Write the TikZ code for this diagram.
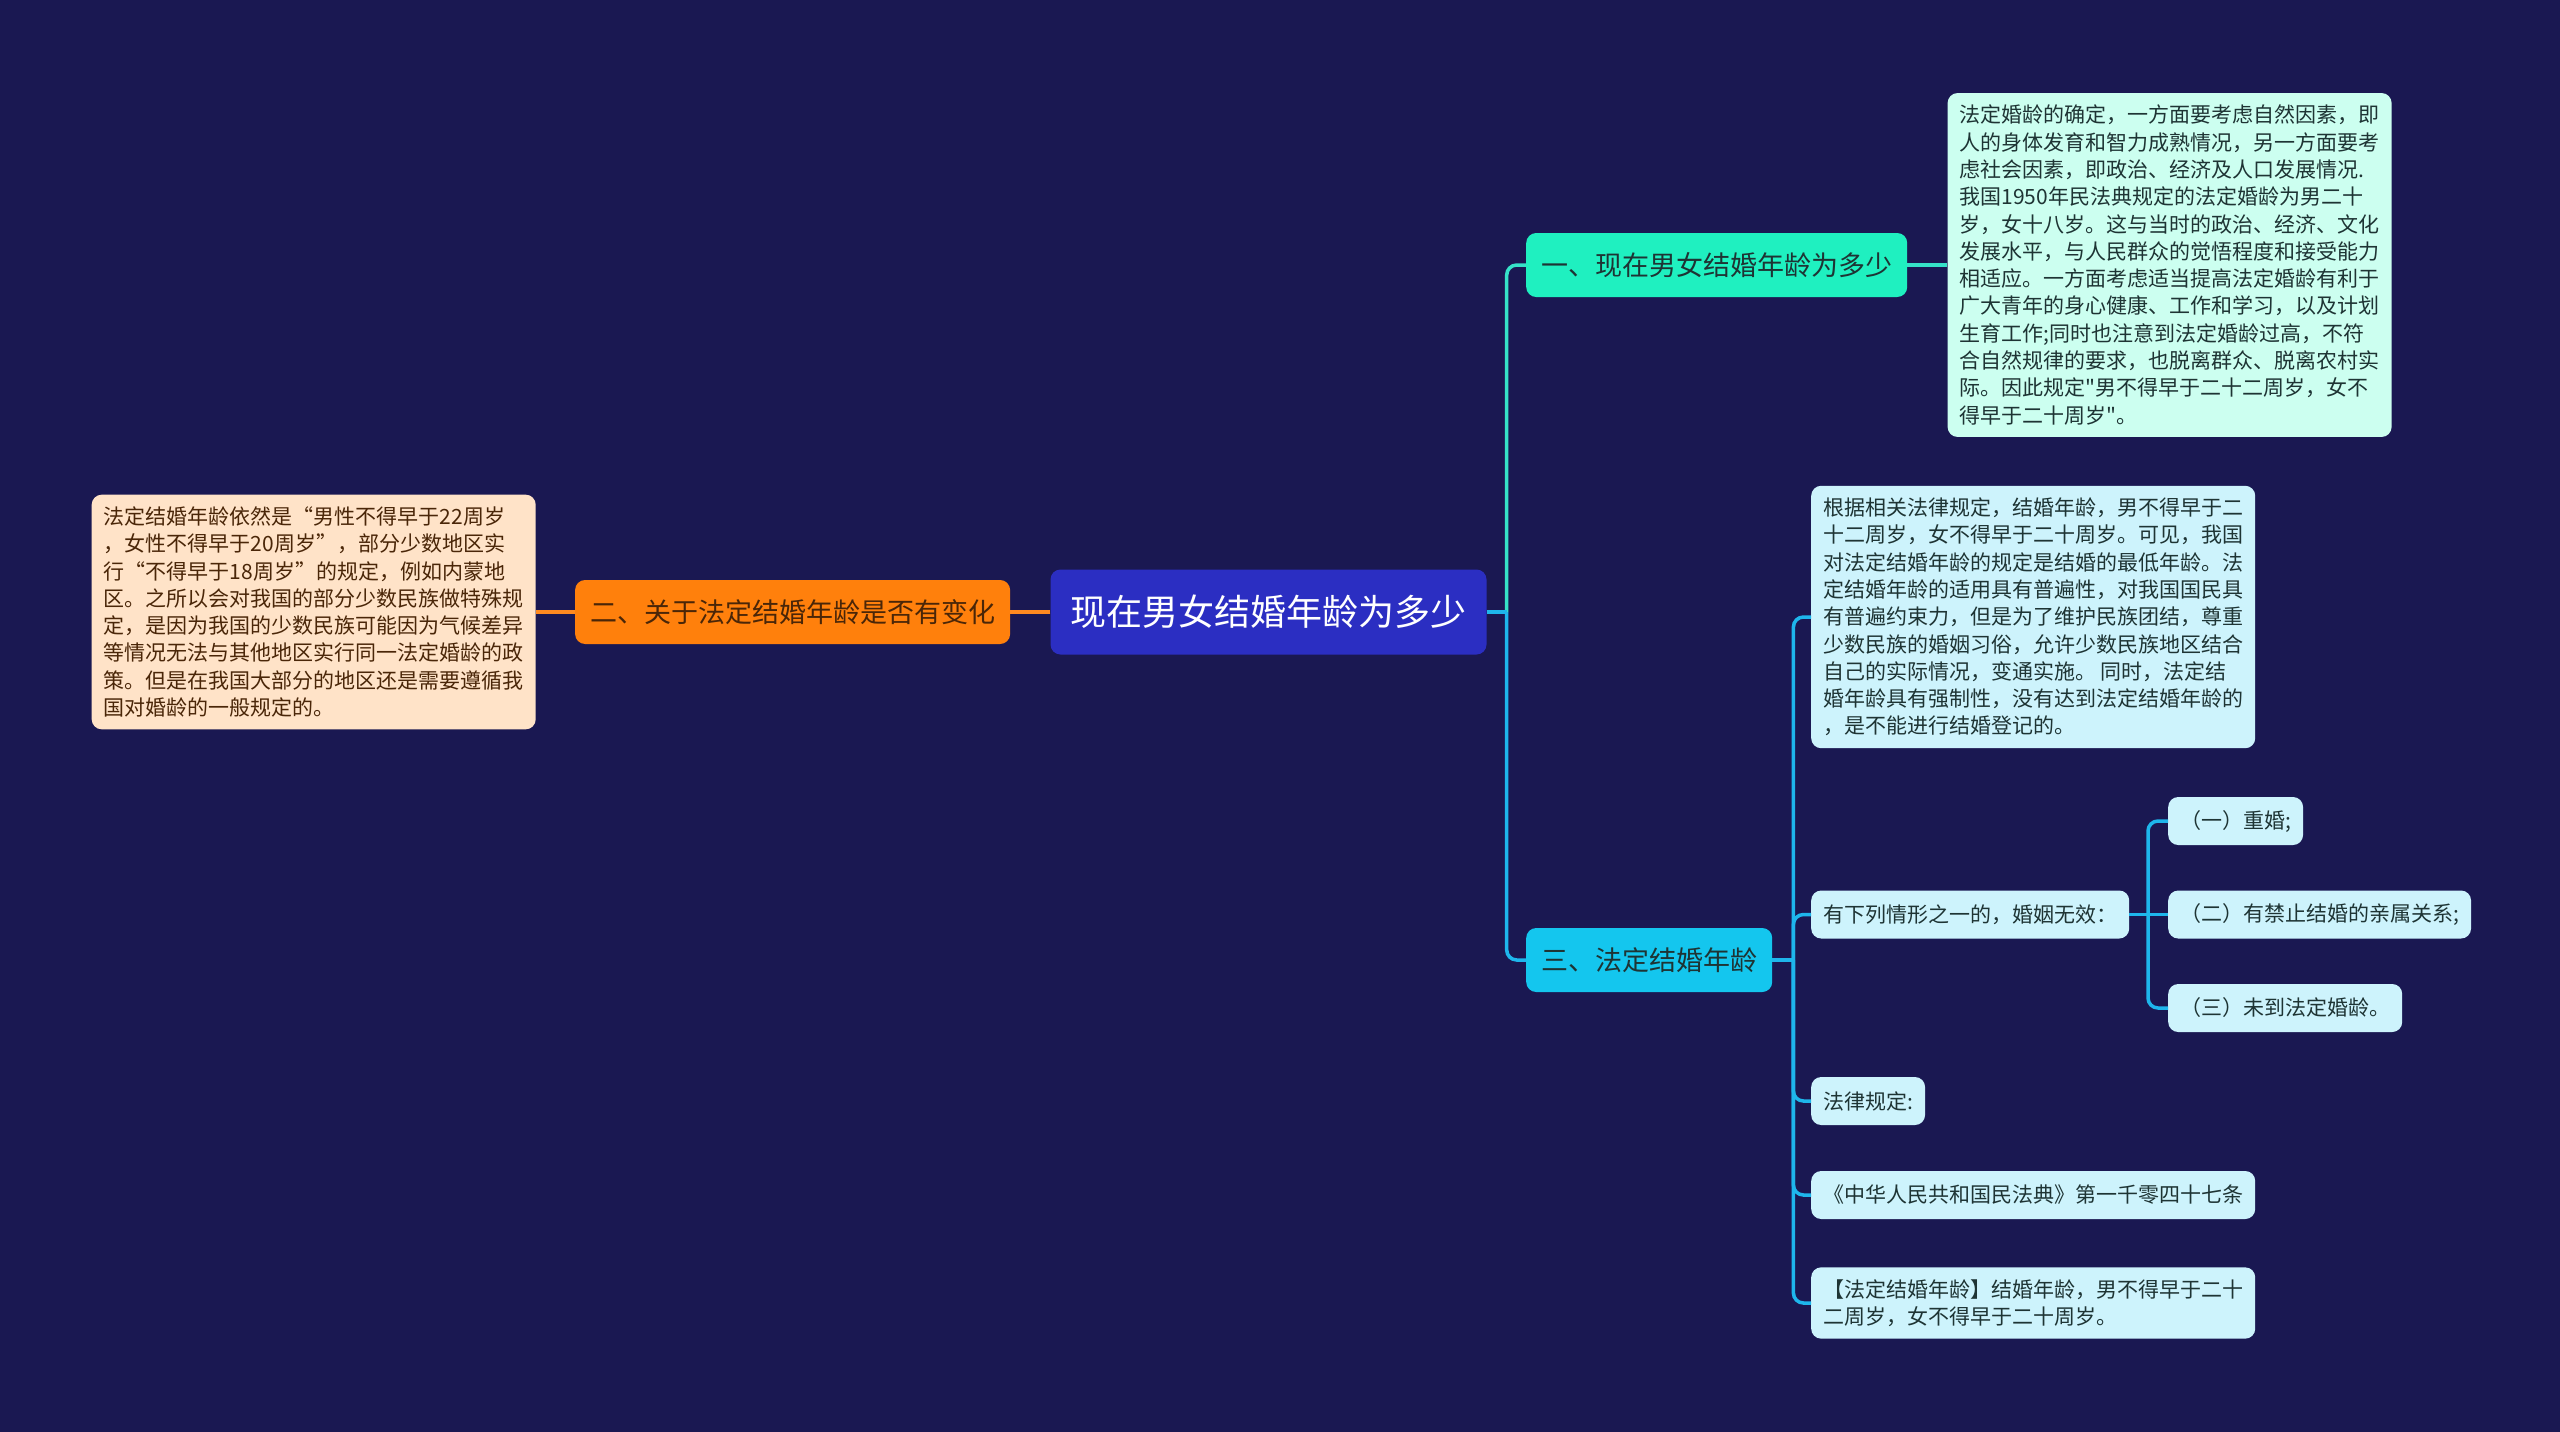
\documentclass[tikz,border=0pt]{standalone}
\usepackage{fontspec}
\newfontfamily\cjkfont{Noto Sans CJK SC}
\usepackage{tikz}
\usetikzlibrary{positioning}

\definecolor{bgnavy}{HTML}{1A1852}
\definecolor{rootblue}{HTML}{2B2EC2}
\definecolor{orangefill}{HTML}{FF800C}
\definecolor{orangeline}{HTML}{FF8A20}
\definecolor{peachfill}{HTML}{FFE3C8}
\definecolor{mintfill}{HTML}{1FF0C0}
\definecolor{mintline}{HTML}{36E2C8}
\definecolor{mintleaf}{HTML}{CCFFF0}
\definecolor{cyanfill}{HTML}{14C6EE}
\definecolor{cyanline}{HTML}{1EB6EC}
\definecolor{cyanleaf}{HTML}{CDF3FC}
\definecolor{inkdark}{HTML}{1E3434}
\definecolor{inkbrown}{HTML}{4A2608}

\begin{document}
\begin{tikzpicture}[
  x=1pt, y=-1pt,
  node distance=40pt and 40pt,
  box/.style={rounded corners=10pt, align=left, inner xsep=12pt, inner ysep=12pt,
    text=inkdark, font=\cjkfont\fontsize{21pt}{27.3pt}\selectfont},
  rootbox/.style={box, fill=rootblue, text=white, inner xsep=20pt, minimum height=85pt,
    font=\cjkfont\fontsize{36pt}{40pt}\selectfont},
  topicbox/.style={box, inner xsep=15pt, minimum height=64pt, font=\cjkfont\fontsize{27pt}{30pt}\selectfont},
  leafbox/.style={box, minimum height=48pt},
  link/.style={line width=3.5pt, rounded corners=10pt}
]
  \useasboundingbox[fill=bgnavy] (0,0) rectangle (2560,1432);

  % centre and the left side
  \node[rootbox] (rootnode) at (1268.5,612) {现在男女结婚年龄为多少};
  \node[topicbox, fill=orangefill, text=inkbrown, left=40pt of rootnode] (topicnode2) {二、关于法定结婚年龄是否有变化};
  \node[leafbox, fill=peachfill, text=inkbrown, left=39pt of topicnode2] (leafnode2) {法定结婚年龄依然是“男性不得早于22周岁\\
，女性不得早于20周岁”，部分少数地区实\\
行“不得早于18周岁”的规定，例如内蒙地\\
区。之所以会对我国的部分少数民族做特殊规\\
定，是因为我国的少数民族可能因为气候差异\\
等情况无法与其他地区实行同一法定婚龄的政\\
策。但是在我国大部分的地区还是需要遵循我\\
国对婚龄的一般规定的。};

  % right side, first topic
  \node[topicbox, fill=mintfill, anchor=west] (topicnode1) at (1526,265) {一、现在男女结婚年龄为多少};
  \node[leafbox, fill=mintleaf, right=40pt of topicnode1] (leafnode1) {法定婚龄的确定，一方面要考虑自然因素，即\\
人的身体发育和智力成熟情况，另一方面要考\\
虑社会因素，即政治、经济及人口发展情况.\\
我国1950年民法典规定的法定婚龄为男二十\\
岁，女十八岁。这与当时的政治、经济、文化\\
发展水平，与人民群众的觉悟程度和接受能力\\
相适应。一方面考虑适当提高法定婚龄有利于\\
广大青年的身心健康、工作和学习，以及计划\\
生育工作;同时也注意到法定婚龄过高，不符\\
合自然规律的要求，也脱离群众、脱离农村实\\
际。因此规定"男不得早于二十二周岁，女不\\
得早于二十周岁"。};

  % right side, third topic
  \node[topicbox, fill=cyanfill, anchor=west] (topicnode3) at (1526,960) {三、法定结婚年龄};
  \node[leafbox, fill=cyanleaf, anchor=west] (leafnode3a) at (1811,617) {根据相关法律规定，结婚年龄，男不得早于二\\
十二周岁，女不得早于二十周岁。可见，我国\\
对法定结婚年龄的规定是结婚的最低年龄。法\\
定结婚年龄的适用具有普遍性，对我国国民具\\
有普遍约束力，但是为了维护民族团结，尊重\\
少数民族的婚姻习俗，允许少数民族地区结合\\
自己的实际情况，变通实施。 同时，法定结\\
婚年龄具有强制性，没有达到法定结婚年龄的\\
，是不能进行结婚登记的。};
  \node[leafbox, fill=cyanleaf, anchor=west] (leafnode3b) at (1811,914.5) {有下列情形之一的，婚姻无效：};
  \node[leafbox, fill=cyanleaf, anchor=west] (leafnode3c) at (1811,1101) {法律规定:};
  \node[leafbox, fill=cyanleaf, anchor=west] (leafnode3d) at (1811,1195) {《中华人民共和国民法典》第一千零四十七条};
  \node[leafbox, fill=cyanleaf, anchor=west] (leafnode3e) at (1811,1303) {【法定结婚年龄】结婚年龄，男不得早于二十\\
二周岁，女不得早于二十周岁。};
  \node[leafbox, fill=cyanleaf, anchor=west] (casenode1) at (2168,821) {（一）重婚;};
  \node[leafbox, fill=cyanleaf, anchor=west] (casenode2) at (2168,914.5) {（二）有禁止结婚的亲属关系;};
  \node[leafbox, fill=cyanleaf, anchor=west] (casenode3) at (2168,1008) {（三）未到法定婚龄。};

  % connectors
  \coordinate[right=20pt of rootnode] (rootfork);
  \coordinate[right=21pt of topicnode3] (topicfork3);
  \coordinate[left=20pt of casenode2] (casefork);

  \draw[link, orangeline] (rootnode) -- (topicnode2);
  \draw[link, orangeline] (topicnode2) -- (leafnode2);
  \draw[link, mintline] (rootfork) |- (topicnode1.west);
  \draw[link, mintline] (topicnode1) -- (leafnode1);
  \draw[link, cyanline] (rootnode.east) -- (rootfork);
  \draw[link, cyanline] (rootfork) |- (topicnode3.west);
  \draw[link, cyanline] (topicnode3.east) -- (topicfork3);
  \foreach \kid in {leafnode3a,leafnode3b,leafnode3c,leafnode3d,leafnode3e}
    \draw[link, cyanline] (topicfork3) |- (\kid.west);
  \draw[link, cyanline] (leafnode3b) -- (casenode2);
  \draw[link, cyanline] (casefork) |- (casenode1.west);
  \draw[link, cyanline] (casefork) |- (casenode3.west);
\end{tikzpicture}
\end{document}
